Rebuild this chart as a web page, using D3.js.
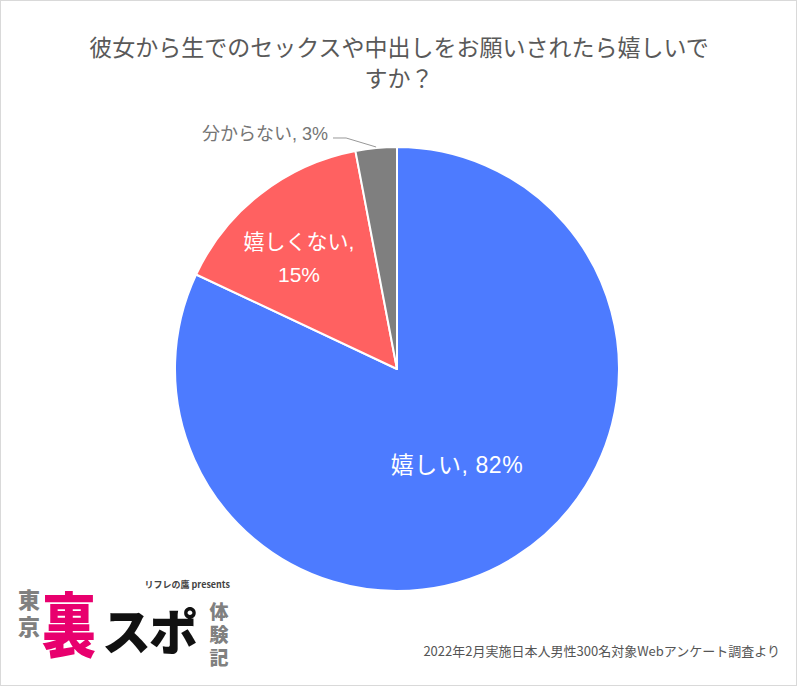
<!DOCTYPE html>
<html>
<head>
<meta charset="utf-8">
<script src="https://cdn.jsdelivr.net/npm/d3@7"></script>
<style>
  body { margin: 0; background: #fff; }
  svg { display: block; font-family: "Liberation Sans", "Noto Sans CJK JP", sans-serif; }
</style>
</head>
<body>
<svg id="chart"></svg>
<script>
var titleLines = ["彼女から生でのセックスや中出しをお願いされたら嬉しいで", "すか？"]
var categories = ["嬉しい", "嬉しくない", "分からない"]
var values = [82, 15, 3]
var colors = ["#4d7bff", "#ff6161", "#7f7f7f"]
var footnote = "2022年2月実施日本人男性300名対象Webアンケート調査より"

var dimensions = ({
    width: 800,
    height: 688,
    cx: 397,
    cy: 369,
    radius: 222
})

var svg = d3.select("#chart")
            .attr("width", dimensions.width)
            .attr("height", dimensions.height)

// frame
svg.append("rect")
   .attr("x", 0.5).attr("y", 0.5)
   .attr("width", 796).attr("height", 685)
   .attr("fill", "#fff")
   .attr("stroke", "#d9d9d9")

svg.append("g")
   .selectAll("text")
   .data(titleLines)
   .enter()
   .append("text")
   .attr("x", 399)
   .attr("y", function(d, i){ return 56 + i * 31 })
   .attr("text-anchor", "middle")
   .attr("font-size", 23)
   .attr("fill", "#595959")
   .text(function(d){ return d })

var data = categories.map(function(c, i){ return {name: c, value: values[i], color: colors[i]} })

var pie = d3.pie().sort(null).value(function(d){ return d.value })
var arcs = pie(data)
var arc = d3.arc().innerRadius(0).outerRadius(dimensions.radius)

var g = svg.append("g")
           .attr("transform", "translate(" + dimensions.cx + "," + dimensions.cy + ")")

g.selectAll("path")
 .data(arcs)
 .enter()
 .append("path")
 .attr("d", arc)
 .attr("fill", function(d){ return d.data.color })
 .attr("stroke", "#fff")
 .attr("stroke-width", 2)
 .attr("stroke-linejoin", "round")

// inside labels
var big = arcs[0]
g.append("text")
 .attr("x", 60).attr("y", 104)
 .attr("text-anchor", "middle")
 .attr("font-size", 23)
 .attr("letter-spacing", 0.6)
 .attr("fill", "#fff")
 .text(big.data.name + ", " + big.data.value + "%")

var mid = arcs[1]
var midText = g.append("text")
 .attr("text-anchor", "middle")
 .attr("font-size", 21)
 .attr("fill", "#fff")
midText.append("tspan").attr("x", -98).attr("y", -120).text(mid.data.name + ",")
midText.append("tspan").attr("x", -98).attr("y", -87).text(mid.data.value + "%")

// outside label with leader
var small = arcs[2]
var a = (small.startAngle + small.endAngle) / 2
var px = Math.sin(a) * dimensions.radius, py = -Math.cos(a) * dimensions.radius
g.append("polyline")
 .attr("points", [[px, py - 1], [px - 30, py - 10], [-64, py - 10]].map(function(p){ return p.join(",") }).join(" "))
 .attr("fill", "none")
 .attr("stroke", "#999")
 .attr("stroke-width", 1)
g.append("text")
 .attr("x", -69).attr("y", py - 8)
 .attr("text-anchor", "end")
 .attr("font-size", 18)
 .attr("fill", "#757575")
 .text(small.data.name + ", " + small.data.value + "%")

// footnote
svg.append("text")
   .attr("x", 780).attr("y", 656)
   .attr("text-anchor", "end")
   .attr("font-family", "Noto Sans CJK JP")
   .attr("font-size", 13)
   .attr("fill", "#555")
   .text(footnote)

// logo
var logo = svg.append("g").attr("font-family", "Noto Sans CJK JP").attr("font-weight", 900)
logo.append("text").attr("x", 230).attr("y", 588).attr("text-anchor", "end")
    .attr("font-size", 9).attr("font-weight", 700).attr("fill", "#444").text("リフレの鷹 presents")
logo.append("text").attr("x", 29).attr("y", 589)
    .style("writing-mode", "vertical-rl").attr("letter-spacing", 5)
    .attr("font-size", 22).attr("fill", "#808080").text("東京")
logo.append("text").attr("transform", "translate(69,652) scale(1,1.3)").attr("text-anchor", "middle")
    .attr("font-size", 54).attr("fill", "#e8006e").text("裏")
logo.append("text").attr("x", 149).attr("y", 650).attr("text-anchor", "middle")
    .attr("font-size", 49).attr("fill", "#111").attr("letter-spacing", -2).text("スポ")
logo.append("text").attr("x", 219).attr("y", 602)
    .style("writing-mode", "vertical-rl").attr("letter-spacing", 4)
    .attr("font-size", 19).attr("fill", "#808080").text("体験記")
</script>
</body>
</html>
